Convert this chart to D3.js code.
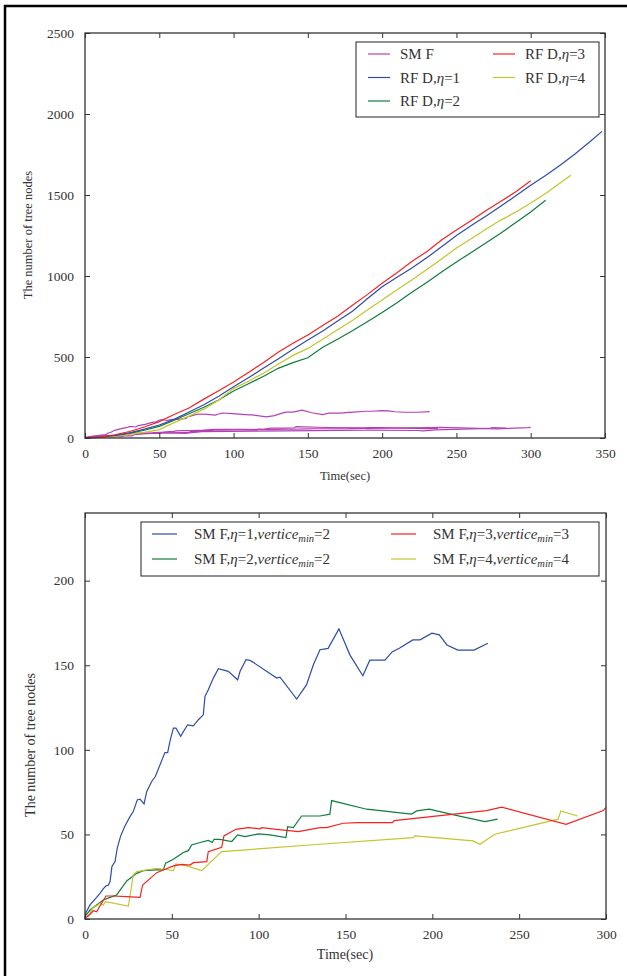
<!DOCTYPE html>
<html>
<head>
<meta charset="utf-8">
<script src="https://cdn.jsdelivr.net/npm/d3@7"></script>
<style>
body { margin: 0; background: #fff; }
svg text { font-family: "Liberation Serif", "DejaVu Serif", serif; fill: #333; }
</style>
</head>
<body>
<svg id="fig" width="627" height="976"></svg>
<script>
// top chart: RFD series, [time, nodes]
let rfd1 = [[0,0],[10,5],[20,15],[30,32],[40,55],[50,80],[60,115],[70,160],[80,205],[90,258],[100,317],[110,372],[120,430],[130,488],[140,548],[150,605],[160,660],[170,722],[180,783],[190,860],[200,934],[210,992],[220,1050],[230,1112],[240,1180],[250,1250],[260,1312],[270,1370],[280,1432],[290,1495],[300,1560],[310,1620],[320,1685],[330,1755],[340,1830],[348,1893]];
let rfd2 = [[0,0],[10,4],[20,14],[30,30],[40,48],[50,72],[60,110],[70,150],[80,190],[90,235],[100,290],[110,335],[120,380],[130,430],[140,465],[150,495],[160,560],[170,610],[180,662],[190,718],[200,774],[210,835],[220,900],[230,960],[240,1025],[250,1086],[260,1145],[270,1205],[280,1265],[290,1330],[300,1395],[310,1468]];
let rfd3 = [[0,0],[10,6],[20,20],[30,40],[40,68],[50,101],[60,145],[70,185],[80,240],[90,292],[100,345],[110,405],[120,465],[130,530],[140,585],[150,636],[160,695],[170,752],[180,820],[190,885],[200,955],[210,1020],[220,1090],[230,1150],[240,1222],[250,1284],[260,1342],[270,1405],[280,1462],[290,1520],[300,1588]];
let rfd4 = [[0,0],[10,3],[20,10],[30,22],[40,35],[50,52],[60,95],[70,135],[80,178],[90,235],[100,305],[110,350],[120,400],[130,455],[140,510],[150,553],[160,610],[170,668],[180,725],[190,790],[200,852],[210,915],[220,975],[230,1040],[240,1105],[250,1173],[260,1230],[270,1290],[280,1345],[290,1395],[300,1450],[310,1510],[320,1575],[327,1622]];

// SMF series (bottom chart, also drawn in purple on top chart)
let smf1 = [[0,0],[0.5,3.7],[2.9,8.3],[6.7,12.8],[8.6,15.2],[10.6,18],[12,19.5],[13.4,20],[14.4,22],[15.5,31],[17.3,34],[18.6,42],[20.5,49],[23,55],[25.9,60.5],[27.8,63.5],[30.1,70.4],[31.7,70.8],[34,68],[35.5,75.3],[38.4,81.3],[40.5,84.2],[44.5,94.5],[46,98.4],[47.6,98.4],[48.9,105],[50.9,112.8],[52.4,112.8],[55.1,108],[56.2,110],[59.1,114.8],[62.4,114.2],[65.3,117.8],[68.1,120.7],[69.1,131.6],[71,135.5],[73.9,142.4],[76.8,148],[82.5,146.4],[87.9,141.4],[89.3,146.4],[92.7,153.3],[95,152.9],[96.9,151.7],[110.4,142.4],[112.3,143],[121.9,130],[127.6,138.5],[131.5,150.3],[135.3,159.2],[140,160],[146.2,171.5],[152.6,156],[160,143.8],[164,153],[172.7,153],[177,158],[181,160],[188.8,165],[192.9,165],[199.8,169],[204,168],[208.4,162],[214.7,159],[224,159],[232,163]];
let smf2 = [[0,1.4],[2.9,5.3],[6.7,8.3],[10.6,11.2],[14.4,12.8],[18.2,14.2],[19.2,15.6],[24,22.5],[29.8,27],[33.6,28.6],[41.3,29],[45.1,29],[46.4,33],[50.9,35.3],[56.6,39.3],[59.5,40.4],[61.4,43.8],[66.2,45.2],[71,46.4],[73.3,45.2],[74.3,47.1],[77.7,47.1],[84.5,45.8],[87.9,49.7],[92.1,48.7],[99.8,50.3],[106.5,49.7],[115.7,48.1],[116.7,54.6],[120,54],[124.7,60.9],[135.3,60.9],[141,62],[142,70],[162.2,64.9],[188,62],[191,63.9],[198.2,64.9],[215,61],[230.3,57.6],[237.6,59]];
let smf3 = [[0,0.4],[1.9,1.8],[4.8,4.9],[6.7,4.3],[8.6,7.7],[12.1,13.6],[16.3,13.6],[24,13.2],[31.7,12.8],[33.2,20.1],[41.3,27.4],[45.1,29],[50.9,31.4],[55.7,32.3],[60.5,31.9],[62.4,33.3],[70.1,33.9],[71,39.8],[78.7,42.4],[80,49.1],[86.9,53],[94,54],[100.8,53.3],[101.7,54],[110.4,53],[122.8,51.7],[135.3,54],[139.1,54],[148.7,56.6],[157.3,57],[177.1,57],[178,58.2],[231.2,64.1],[239.9,66.1],[277,56],[298.4,64.1],[300,66]];
let smf4 = [[0,1.8],[2.5,2.4],[4.8,7.3],[6.7,7.7],[8.6,9.3],[10.6,8.3],[11.7,10.3],[25,7.7],[27.8,26],[29.8,28],[41.3,30],[50.9,28.6],[52.4,32.5],[58.5,31.4],[67.2,28.6],[78.7,39.8],[135.3,44.2],[189,48.1],[190,49.1],[223.5,46.2],[227.4,44.2],[236,50.1],[272.5,59],[274,63.9],[283.6,60.9]];

let topXTicks = [0,50,100,150,200,250,300,350];
let topYTicks = [0,500,1000,1500,2000,2500];
let botXTicks = [0,50,100,150,200,250,300];
let botYTicks = [0,50,100,150,200];

let purple = "#b442b4", blue = "#2e4ca8", green = "#0f7d3c", red = "#f52222", yellow = "#c4c42c";
let serif = "'Liberation Serif', 'DejaVu Serif', serif";

let svg = d3.select("#fig");

// page frame (top and left edges)
svg.append("line").attr("x1",4).attr("x2",627).attr("y1",6).attr("y2",6).attr("stroke","#000").attr("stroke-width",2.5);
svg.append("line").attr("x1",5).attr("x2",5).attr("y1",5).attr("y2",976).attr("stroke","#000").attr("stroke-width",2.5);

function drawAxes(g, x, y, xt, yt) {
    let w = x.range()[1], h = y.range()[0];
    let fmt = d3.format("d");
    g.append("g").attr("transform","translate(0,"+h+")")
        .call(d3.axisBottom(x).tickValues(xt).tickFormat(fmt).tickSizeInner(-5).tickSizeOuter(0).tickPadding(10));
    g.append("g")
        .call(d3.axisTop(x).tickValues(xt).tickSizeInner(-5).tickSizeOuter(0).tickFormat(""));
    g.append("g")
        .call(d3.axisLeft(y).tickValues(yt).tickFormat(fmt).tickSizeInner(-5).tickSizeOuter(0).tickPadding(11));
    g.append("g").attr("transform","translate("+w+",0)")
        .call(d3.axisRight(y).tickValues(yt).tickSizeInner(-5).tickSizeOuter(0).tickFormat(""));
    g.selectAll(".domain").remove();
    g.selectAll("g").attr("font-family", serif);
    g.selectAll(".tick line").attr("stroke","#333");
    g.selectAll(".tick text").style("font-size","13.5px").attr("fill","#444");
    g.append("rect").attr("width",w).attr("height",h).attr("fill","none").attr("stroke","#333").attr("stroke-width",1.3);
}

function drawLines(g, x, y, list) {
    let line = d3.line().x(d => x(d[0])).y(d => y(d[1]));
    for (let s of list) {
        g.append("path").datum(s.data).attr("d", line).attr("fill","none")
            .attr("stroke", s.color).attr("stroke-width", 1.2);
    }
}

// ---------- top chart ----------
let topChart = svg.append("g").attr("transform","translate(85,33)");
let x1 = d3.scaleLinear().domain([0,350]).range([0,520]);
let y1 = d3.scaleLinear().domain([0,2500]).range([405,0]);
drawLines(topChart.append("g"), x1, y1, [
    {data: smf1, color: purple}, {data: smf2, color: purple}, {data: smf3, color: purple}, {data: smf4, color: purple},
    {data: rfd2, color: green}, {data: rfd4, color: yellow}, {data: rfd1, color: blue}, {data: rfd3, color: red}
]);
drawAxes(topChart, x1, y1, topXTicks, topYTicks);
topChart.append("text").attr("x",260).attr("y",447).attr("text-anchor","middle").style("font-size","12.5px").text("Time(sec)");
topChart.append("text").attr("transform","translate(-53,202) rotate(-90)").attr("text-anchor","middle").style("font-size","12.5px").text("The number of tree nodes");

// top legend
let leg1 = svg.append("g").attr("transform","translate(356,42)");
leg1.append("rect").attr("width",243).attr("height",75).attr("fill","#fff").attr("stroke","#222").attr("stroke-width",1);
let legTop = [
    {label:"SM F", eta:null, color: purple, col:0, row:0},
    {label:"RF D,", eta:"1", color: blue, col:0, row:1},
    {label:"RF D,", eta:"2", color: green, col:0, row:2},
    {label:"RF D,", eta:"3", color: red, col:1, row:0},
    {label:"RF D,", eta:"4", color: yellow, col:1, row:1}
];
for (let e of legTop) {
    let lx = e.col ? 137 : 12, ly = 12 + e.row * 23.5;
    leg1.append("line").attr("x1",lx).attr("x2",lx+22).attr("y1",ly).attr("y2",ly).attr("stroke",e.color).attr("stroke-width",1.2);
    let t = leg1.append("text").attr("x",lx+32).attr("y",ly+5).style("font-size","15px").attr("fill","#222");
    t.append("tspan").text(e.label);
    if (e.eta) {
        t.append("tspan").style("font-style","italic").text("η");
        t.append("tspan").text("=" + e.eta);
    }
}

// ---------- bottom chart ----------
let botChart = svg.append("g").attr("transform","translate(85,513)");
let x2 = d3.scaleLinear().domain([0,300]).range([0,521]);
let y2 = d3.scaleLinear().domain([0,240]).range([406,0]);
drawLines(botChart.append("g"), x2, y2, [
    {data: smf1, color: blue}, {data: smf2, color: green}, {data: smf4, color: yellow}, {data: smf3, color: red}
]);
drawAxes(botChart, x2, y2, botXTicks, botYTicks);
botChart.append("text").attr("x",260).attr("y",446).attr("text-anchor","middle").style("font-size","14px").text("Time(sec)");
botChart.append("text").attr("transform","translate(-50,232) rotate(-90)").attr("text-anchor","middle").style("font-size","14px").text("The number of tree nodes");

// bottom legend
let leg2 = svg.append("g").attr("transform","translate(141,522)");
leg2.append("rect").attr("width",458).attr("height",54).attr("fill","#fff").attr("stroke","#222").attr("stroke-width",1);
let legBot = [
    {eta:"1", vmin:"2", color: blue, col:0, row:0},
    {eta:"2", vmin:"2", color: green, col:0, row:1},
    {eta:"3", vmin:"3", color: red, col:1, row:0},
    {eta:"4", vmin:"4", color: yellow, col:1, row:1}
];
for (let e of legBot) {
    let lx = e.col ? 250 : 11, ly = 12 + e.row * 25;
    leg2.append("line").attr("x1",lx).attr("x2",lx+25).attr("y1",ly).attr("y2",ly).attr("stroke",e.color).attr("stroke-width",1.2);
    let t = leg2.append("text").attr("x",lx+42).attr("y",ly+5).style("font-size","15px").attr("fill","#222");
    t.append("tspan").text("SM F,");
    t.append("tspan").style("font-style","italic").text("η");
    t.append("tspan").text("=" + e.eta + ",");
    t.append("tspan").style("font-style","italic").text("vertice");
    t.append("tspan").style("font-style","italic").style("font-size","10.5px").attr("dy",3).text("min");
    t.append("tspan").attr("dy",-3).text("=" + e.vmin);
}
</script>
</body>
</html>
